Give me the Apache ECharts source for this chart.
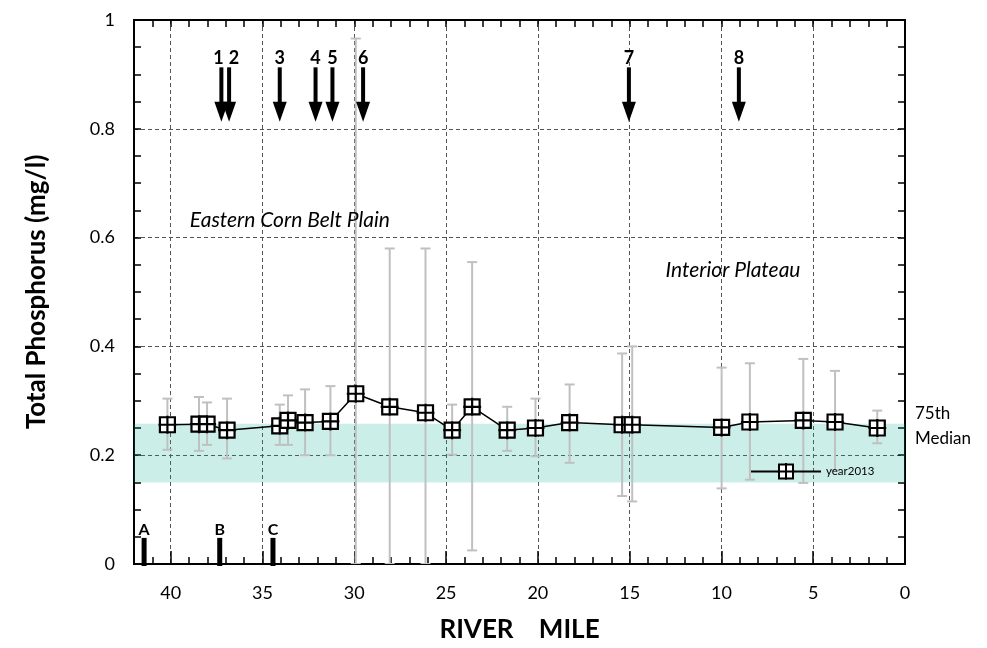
<!DOCTYPE html>
<html><head><meta charset="utf-8">
<script src="https://cdn.jsdelivr.net/npm/echarts@6/dist/echarts.min.js"></script>
<style>html,body{margin:0;padding:0;background:#fff}#c{width:987px;height:648px}</style>
</head><body><div id="c"></div>
<script>
// ---- data ----
const riverMiles = [40.18, 38.46, 38.02, 36.93, 34.06, 33.61, 32.68, 31.30, 29.92, 28.07, 26.12, 24.67, 23.58, 21.67, 20.13, 18.27, 15.41, 14.86, 9.99, 8.45, 5.54, 3.81, 1.51];
const medianTP = [0.256, 0.257, 0.257, 0.246, 0.254, 0.264, 0.260, 0.262, 0.313, 0.289, 0.278, 0.246, 0.289, 0.246, 0.250, 0.260, 0.256, 0.256, 0.251, 0.261, 0.264, 0.261, 0.250];
const upperTP = [0.304, 0.307, 0.297, 0.304, 0.293, 0.310, 0.321, 0.327, 0.966, 0.580, 0.580, 0.293, 0.555, 0.289, 0.304, 0.330, 0.387, 0.400, 0.361, 0.369, 0.377, 0.355, 0.282];
const lowerTP = [0.210, 0.208, 0.219, 0.194, 0.219, 0.219, 0.200, 0.200, 0.000, 0.000, 0.000, 0.201, 0.025, 0.208, 0.198, 0.186, 0.125, 0.115, 0.139, 0.155, 0.149, 0.172, 0.222];
const seriesName = 'year2013';
const arrowLabels = ['1', '2', '3', '4', '5', '6', '7', '8'];
const arrowMiles = [37.24, 36.82, 34.06, 32.11, 31.19, 29.52, 15.04, 9.05];
const arrowTopValue = 0.913;
const arrowTipValue = 0.813;
const siteLabels = ['A', 'B', 'C'];
const siteMiles = [41.45, 37.33, 34.43];
const siteTopValue = 0.048;
const bandRange = [0.15, 0.258];
const regionLabels = ['Eastern Corn Belt Plain', 'Interior Plateau'];
const regionMiles = [33.51, 9.37];
const regionValues = [0.632, 0.540];
const bandLabels = ['75th', 'Median'];
const bandLabelValues = [0.277, 0.231];
const xRange = [0, 42];
const yRange = [0, 1];

// ---- styles ----
const FONT = 'Lato, "Open Sans", sans-serif';
const arrowLabelShift = [-3, 5, 0, 0, 0, 0, 0, 0];
const gridStyle = { color: '#555', width: 1, type: [4, 3] };

const chart = echarts.init(document.getElementById('c'), null, { renderer: 'canvas' });

function xAx(pos, interval, tickLen, opts) {
  return Object.assign({
    type: 'value', min: xRange[0], max: xRange[1], interval: interval, inverse: true, position: pos,
    axisLine: { show: true, onZero: false, lineStyle: { color: '#000', width: 2 } },
    axisTick: { show: true, inside: true, length: tickLen, lineStyle: { color: '#000', width: 1.5 } },
    axisLabel: { show: false }, splitLine: { show: false }
  }, opts || {});
}
function yAx(pos, interval, tickLen, opts) {
  return Object.assign({
    type: 'value', min: yRange[0], max: yRange[1], interval: interval, position: pos,
    axisLine: { show: true, onZero: false, lineStyle: { color: '#000', width: 2 } },
    axisTick: { show: true, inside: true, length: tickLen, lineStyle: { color: '#000', width: 1.5 } },
    axisLabel: { show: false }, splitLine: { show: false }
  }, opts || {});
}

const markerPath = 'path://M1,1H11V11H1Z M6,0V12 M0,6H12';

const option = {
  animation: false,
  backgroundColor: '#fff',
  grid: { left: 134, right: 82, top: 20, bottom: 84, containLabel: false },
  legend: {
    data: [seriesName], left: 745, top: 457, itemWidth: 70, itemHeight: 21, itemGap: 4,
    textStyle: { fontFamily: FONT, fontSize: 11.5, color: '#000' }
  },
  xAxis: [
    xAx('bottom', 5, 13, {
      axisLabel: { show: true, fontFamily: FONT, fontSize: 18, color: '#000', margin: 20,
        formatter: v => (v % 5 === 0 ? String(v) : '') },
      splitLine: { show: true, lineStyle: gridStyle },
      name: 'RIVER    MILE', nameLocation: 'middle', nameGap: 53,
      nameTextStyle: { fontFamily: FONT, fontSize: 26, fontWeight: 'bold', color: '#000', verticalAlign: 'top' }
    }),
    xAx('bottom', 1, 7),
    xAx('top', 5, 7),
    xAx('top', 1, 7)
  ],
  yAxis: [
    yAx('left', 0.2, 7, {
      axisLabel: { show: true, fontFamily: FONT, fontSize: 18, color: '#000', margin: 19 },
      splitLine: { show: true, lineStyle: gridStyle },
      name: 'Total Phosphorus (mg/l)', nameLocation: 'middle', nameGap: 84,
      nameTextStyle: { fontFamily: FONT, fontSize: 26, fontWeight: 'bold', color: '#000' }
    }),
    yAx('left', 0.05, 7),
    yAx('right', 0.2, 7),
    yAx('right', 0.05, 7)
  ],
  series: [
    {
      type: 'custom', name: 'band', z: 1, silent: true, clip: true,
      data: [[bandRange[0], bandRange[1]]],
      encode: { y: [0, 1] },
      renderItem: function (params, api) {
        const p1 = api.coord([xRange[1], api.value(1)]);
        const p2 = api.coord([xRange[0], api.value(0)]);
        return { type: 'rect', shape: { x: Math.min(p1[0], p2[0]), y: p1[1], width: Math.abs(p2[0] - p1[0]), height: p2[1] - p1[1] },
          style: { fill: 'rgba(0,170,145,0.2)' } };
      }
    },
    {
      type: 'custom', name: 'errorbars', z: 2, silent: true, clip: true,
      data: riverMiles.map((m, i) => [m, lowerTP[i], upperTP[i]]),
      encode: { x: 0, y: [1, 2] },
      renderItem: function (params, api) {
        const lo = api.coord([api.value(0), api.value(1)]);
        const hi = api.coord([api.value(0), api.value(2)]);
        const w = 5;
        const st = { stroke: '#c0c0c0', lineWidth: 2 };
        return { type: 'group', children: [
          { type: 'line', shape: { x1: lo[0], y1: lo[1], x2: hi[0], y2: hi[1] }, style: st },
          { type: 'line', shape: { x1: hi[0] - w, y1: hi[1], x2: hi[0] + w, y2: hi[1] }, style: st },
          { type: 'line', shape: { x1: lo[0] - w, y1: lo[1], x2: lo[0] + w, y2: lo[1] }, style: st }
        ] };
      }
    },
    {
      type: 'line', name: seriesName, z: 4,
      data: riverMiles.map((m, i) => [m, medianTP[i]]),
      symbol: markerPath, symbolSize: 18, symbolKeepAspect: true,
      lineStyle: { color: '#000', width: 1.5 },
      itemStyle: { color: '#fff', borderColor: '#000', borderWidth: 2.2 },
      emphasis: { disabled: true }
    },
    {
      type: 'custom', name: 'arrows', z: 5, silent: true, clip: false,
      data: arrowMiles.map((m, i) => [m, i]),
      encode: { x: 0 },
      renderItem: function (params, api) {
        const i = api.value(1);
        const top = api.coord([api.value(0), arrowTopValue]);
        const tip = api.coord([api.value(0), arrowTipValue]);
        const x = top[0];
        const headH = 20, headW = 7, shaftW = 4;
        return { type: 'group', children: [
          { type: 'rect', shape: { x: x - shaftW / 2, y: top[1], width: shaftW, height: tip[1] - headH - top[1] + 2 }, style: { fill: '#000' } },
          { type: 'polygon', shape: { points: [[x - headW, tip[1] - headH], [x + headW, tip[1] - headH], [x, tip[1]]] }, style: { fill: '#000' } },
          { type: 'text', x: x + arrowLabelShift[i], y: top[1] - 9,
            style: { text: arrowLabels[i], fontFamily: FONT, fontSize: 18, fontWeight: 'bold', fill: '#000', align: 'center', verticalAlign: 'middle' } }
        ] };
      }
    },
    {
      type: 'custom', name: 'sites', z: 5, silent: true, clip: false,
      data: siteMiles.map((m, i) => [m, i]),
      encode: { x: 0 },
      renderItem: function (params, api) {
        const i = api.value(1);
        const top = api.coord([api.value(0), siteTopValue]);
        const bot = api.coord([api.value(0), 0]);
        return { type: 'group', children: [
          { type: 'rect', shape: { x: top[0] - 2.5, y: top[1], width: 5, height: bot[1] - top[1] + 2 }, style: { fill: '#000' } },
          { type: 'text', x: top[0], y: top[1] - 8,
            style: { text: siteLabels[i], fontFamily: FONT, fontSize: 16, fontWeight: 'bold', fill: '#000', align: 'center', verticalAlign: 'middle' } }
        ] };
      }
    },
    {
      type: 'custom', name: 'regions', z: 5, silent: true, clip: false,
      data: regionMiles.map((m, i) => [m, regionValues[i], i]),
      encode: { x: 0, y: 1 },
      renderItem: function (params, api) {
        const p = api.coord([api.value(0), api.value(1)]);
        return { type: 'text', x: p[0], y: p[1],
          style: { text: regionLabels[api.value(2)], fontFamily: FONT, fontSize: 21, fontStyle: 'italic', fill: '#000', align: 'center', verticalAlign: 'middle' } };
      }
    },
    {
      type: 'custom', name: 'bandLabels', z: 5, silent: true, clip: false,
      data: bandLabelValues.map((v, i) => [xRange[0], v, i]),
      encode: { x: 0, y: 1 },
      renderItem: function (params, api) {
        const p = api.coord([api.value(0), api.value(1)]);
        return { type: 'text', x: p[0] + 10, y: p[1],
          style: { text: bandLabels[api.value(2)], fontFamily: FONT, fontSize: 17, fill: '#000', align: 'left', verticalAlign: 'middle' } };
      }
    }
  ]
};
chart.setOption(option);
</script>
</body></html>
